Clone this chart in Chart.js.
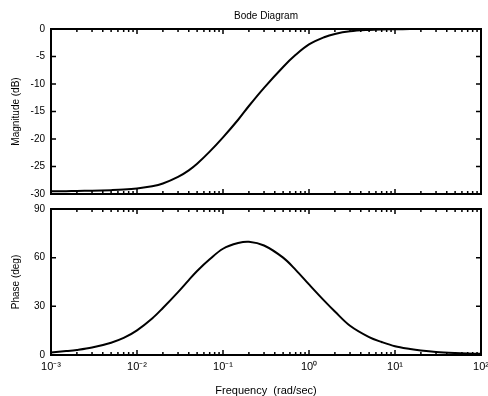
<!DOCTYPE html>
<html>
<head>
<meta charset="utf-8">
<script src="https://cdn.jsdelivr.net/npm/chart.js@4.4.0/dist/chart.umd.min.js"></script>
<style>
  body { margin: 0; background: #fff; }
  #wrap { position: relative; width: 488px; height: 396px; }
  .pane { position: absolute; left: 0; }
</style>
</head>
<body>
<div id="wrap">
  <div class="pane" style="top:0"><canvas id="magChart" width="488" height="200"></canvas></div>
  <div class="pane" style="top:200px"><canvas id="phaseChart" width="488" height="196"></canvas></div>
</div>
<script>
// frequency points (rad/sec)
var freq = [0.001, 0.0015, 0.002, 0.003, 0.005, 0.007, 0.01, 0.015, 0.02, 0.03, 0.04, 0.05, 0.07, 0.1, 0.15, 0.2, 0.3,
            0.5, 0.7, 1, 1.5, 2, 3, 5, 7, 10, 15, 20, 30, 50, 70, 100];
// magnitude (dB)
var magnitude = [-29.5, -29.48, -29.45, -29.4, -29.3, -29.2, -29.0, -28.6, -28.1, -26.9, -25.7, -24.5, -22.3, -19.7, -16.5, -14.0, -10.7,
                 -6.9, -4.7, -2.8, -1.5, -0.9, -0.42, -0.16, -0.08, -0.04, -0.02, -0.01, 0, 0, 0, 0];
// phase (deg)
var phase = [1.6, 2.4, 3.1, 4.6, 7.6, 10.5, 15.2, 22.5, 29.0, 38.8, 46.2, 51.8, 59.0, 65.5, 69.0, 69.8, 67.5,
             60.0, 52.5, 43.5, 33.5, 26.8, 18.0, 11.0, 8.0, 5.4, 3.7, 2.8, 1.9, 1.2, 0.9, 0.7];

// x axis ticks
var decades = [0.001, 0.01, 0.1, 1, 10, 100];
var decadeLabels = ['10\u207B\u00B3', '10\u207B\u00B2', '10\u207B\u00B9', '10\u2070', '10\u00B9', '10\u00B2'];
var minorSteps = [2, 3, 4, 5, 6, 7, 8, 9];

var xTicks = [];
decades.forEach(function(d, i) {
  xTicks.push(d);
  if (i < decades.length - 1) {
    minorSteps.forEach(function(m) { xTicks.push(+(d * m).toPrecision(3)); });
  }
});

var FONT = "'Liberation Sans', Arial, sans-serif";

function toPoints(ys) {
  return freq.map(function(f, i) { return { x: f, y: ys[i] }; });
}

// matlab style box with inward ticks
var boxTicks = {
  id: 'boxTicks',
  afterDatasetsDraw: function(chart) {
    var ctx = chart.ctx, a = chart.chartArea;
    var xs = chart.scales.x, ys = chart.scales.y;
    ctx.save();
    ctx.strokeStyle = '#000';
    ctx.lineWidth = 1.5;
    ctx.beginPath();
    xs.ticks.forEach(function(t) {
      var px = xs.getPixelForValue(t.value);
      var len = decades.indexOf(t.value) >= 0 ? 5 : 3;
      ctx.moveTo(px, a.bottom); ctx.lineTo(px, a.bottom - len);
      ctx.moveTo(px, a.top); ctx.lineTo(px, a.top + len);
    });
    ys.ticks.forEach(function(t) {
      var py = ys.getPixelForValue(t.value);
      ctx.moveTo(a.left, py); ctx.lineTo(a.left + 5, py);
      ctx.moveTo(a.right, py); ctx.lineTo(a.right - 5, py);
    });
    ctx.stroke();
    ctx.lineWidth = 2;
    ctx.strokeRect(a.left, a.top, a.right - a.left, a.bottom - a.top);
    ctx.restore();
  }
};

function xScale(showLabels, height) {
  return {
    type: 'logarithmic',
    min: 0.001,
    max: 100,
    grid: { display: false, drawTicks: false },
    border: { display: false },
    afterBuildTicks: function(s) {
      s.ticks = xTicks.map(function(v) { return { value: v }; });
    },
    afterFit: function(s) {
      s.height = height;
      s.paddingLeft = 0; s.paddingRight = 0;
    },
    ticks: {
      display: showLabels,
      autoSkip: false,
      maxRotation: 0,
      padding: 5,
      color: '#000',
      font: { family: FONT, size: 11 },
      callback: function(v) {
        var i = decades.indexOf(v);
        return i >= 0 ? decadeLabels[i] : '';
      }
    },
    title: {
      display: showLabels,
      text: 'Frequency  (rad/sec)',
      color: '#000',
      font: { family: FONT, size: 11, lineHeight: 1 },
      padding: { top: 0, bottom: 0 }
    }
  };
}

function yScale(min, max, step, label) {
  return {
    min: min,
    max: max,
    grid: { display: false, drawTicks: false },
    border: { display: false },
    afterFit: function(s) {
      s.width = 51;
      s.paddingTop = 0; s.paddingBottom = 0;
    },
    ticks: {
      stepSize: step,
      padding: 6,
      color: '#000',
      font: { family: FONT, size: 10 }
    },
    title: {
      display: true,
      text: label,
      color: '#000',
      font: { family: FONT, size: 10 },
      padding: { top: 10.5, bottom: 0 }
    }
  };
}

function lineSet(ys) {
  return {
    data: toPoints(ys),
    borderColor: '#000',
    borderWidth: 2,
    pointRadius: 0,
    fill: false,
    tension: 0.35
  };
}

new Chart(document.getElementById('magChart'), {
  type: 'line',
  data: { datasets: [lineSet(magnitude)] },
  options: {
    responsive: false,
    animation: false,
    devicePixelRatio: 1,
    layout: { padding: { left: 0, right: 7, top: 0, bottom: 0 } },
    scales: {
      x: xScale(false, 6),
      y: yScale(-30, 0, 5, 'Magnitude (dB)')
    },
    plugins: {
      legend: { display: false },
      tooltip: { enabled: false },
      title: {
        display: true,
        text: 'Bode Diagram',
        fullSize: false,
        color: '#000',
        font: { family: FONT, size: 10, weight: 'normal' },
        padding: { top: 10, bottom: 7 }
      }
    }
  },
  plugins: [boxTicks]
});

new Chart(document.getElementById('phaseChart'), {
  type: 'line',
  data: { datasets: [lineSet(phase)] },
  options: {
    responsive: false,
    animation: false,
    devicePixelRatio: 1,
    layout: { padding: { left: 0, right: 7, top: 9, bottom: 0 } },
    scales: {
      x: xScale(true, 41),
      y: yScale(0, 90, 30, 'Phase (deg)')
    },
    plugins: {
      legend: { display: false },
      tooltip: { enabled: false }
    }
  },
  plugins: [boxTicks]
});
</script>
</body>
</html>
